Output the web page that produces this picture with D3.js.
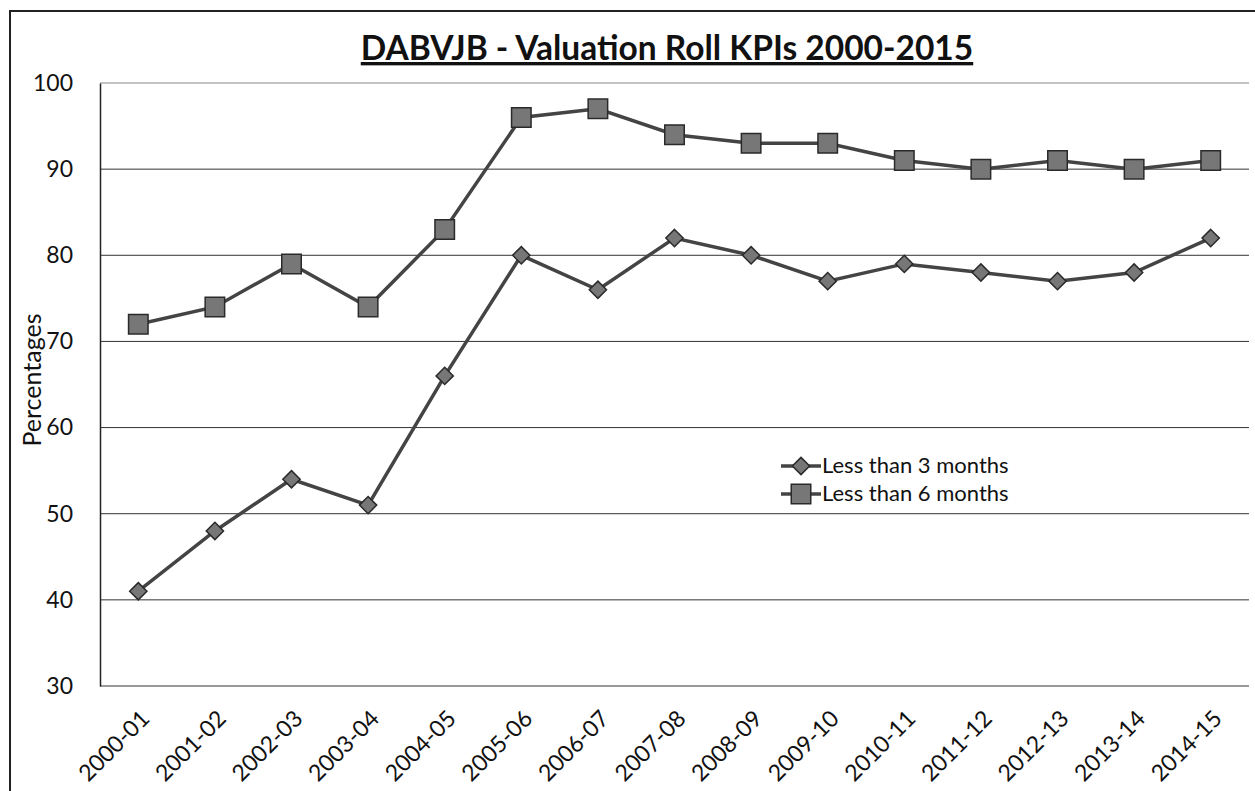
<!DOCTYPE html>
<html lang="en">
<head>
<meta charset="utf-8">
<title>DABVJB - Valuation Roll KPIs 2000-2015</title>
<script src="https://d3js.org/d3.v7.min.js"></script>
<style>
  body { margin: 0; background: #fff; }
  svg text { font-family: Lato, "Open Sans", sans-serif; fill: #111; }
  .axis text { font-size: 23px; }
  .xaxis text { font-size: 23px; }
  .title { font-size: 33.5px; font-weight: bold; text-decoration: underline; }
  .legend text { font-size: 22px; }
</style>
</head>
<body>
<svg id="chart" width="1255" height="791"></svg>
<script>
// chart values
var years = ["2000-01","2001-02","2002-03","2003-04","2004-05","2005-06","2006-07","2007-08",
             "2008-09","2009-10","2010-11","2011-12","2012-13","2013-14","2014-15"];
var less3 = [41, 48, 54, 51, 66, 80, 76, 82, 80, 77, 79, 78, 77, 78, 82];
var less6 = [72, 74, 79, 74, 83, 96, 97, 94, 93, 93, 91, 90, 91, 90, 91];
var yTicks = [30, 40, 50, 60, 70, 80, 90, 100];
var seriesNames = ["Less than 3 months", "Less than 6 months"];

var svg = d3.select("#chart");
var plotLeft = 100, plotRight = 1249, plotTop = 83, plotBottom = 686;

var x = d3.scalePoint().domain(years).range([plotLeft, plotRight]).padding(0.5);
var y = d3.scaleLinear().domain([30, 100]).range([plotBottom, plotTop]);

// outer frame (cut off at the right / bottom like the scan)
svg.append("path")
  .attr("d", "M10,800 L10,11 L1260,11")
  .attr("fill", "none").attr("stroke", "#222").attr("stroke-width", 2);

// grid lines
svg.append("g")
  .selectAll("line").data(yTicks).enter().append("line")
    .attr("x1", plotLeft).attr("x2", plotRight)
    .attr("y1", function(d) { return y(d); })
    .attr("y2", function(d) { return y(d); })
    .attr("stroke", function(d) { return d == 100 ? "#888" : "#333"; })
    .attr("stroke-width", 1);

// y axis
var yAxis = svg.append("g").attr("class", "axis")
  .attr("transform", "translate(" + plotLeft + ",0)")
  .call(d3.axisLeft(y).tickValues(yTicks).tickSize(0).tickPadding(27));
yAxis.select(".domain").attr("stroke", "#222").attr("stroke-width", 1.5);

// x axis
var xAxis = svg.append("g").attr("class", "axis xaxis")
  .attr("transform", "translate(0," + plotBottom + ")")
  .call(d3.axisBottom(x).tickSize(0));
xAxis.select(".domain").remove();
xAxis.selectAll("text")
  .attr("text-anchor", "end")
  .attr("dy", 0)
  .attr("transform", "translate(10,32) rotate(-45)");

svg.append("text")
  .attr("transform", "translate(41,380) rotate(-90)")
  .attr("text-anchor", "middle")
  .style("font-size", "25px")
  .text("Percentages");

svg.append("text").attr("class", "title")
  .attr("x", 667).attr("y", 60)
  .attr("text-anchor", "middle")
  .text("DABVJB - Valuation Roll KPIs 2000-2015");

var line = d3.line()
  .x(function(d, i) { return x(years[i]); })
  .y(function(d) { return y(d); });

var diamond = d3.symbol().type(d3.symbolDiamond2).size(190);
var square = d3.symbol().type(d3.symbolSquare).size(380);

function drawSeries(values, sym) {
  var g = svg.append("g");
  g.append("path").datum(values)
    .attr("d", line)
    .attr("fill", "none").attr("stroke", "#444").attr("stroke-width", 3.5);
  g.selectAll("path.m").data(values).enter().append("path")
    .attr("class", "m")
    .attr("d", sym)
    .attr("transform", function(d, i) { return "translate(" + x(years[i]) + "," + y(d) + ")"; })
    .attr("fill", "#777").attr("stroke", "#2a2a2a").attr("stroke-width", 1.5);
}
drawSeries(less3, diamond);
drawSeries(less6, square);

// legend
var legend = svg.append("g").attr("class", "legend");
[diamond, square].forEach(function(sym, i) {
  var ly = 466 + i * 28;
  legend.append("line")
    .attr("x1", 781).attr("x2", 821).attr("y1", ly).attr("y2", ly)
    .attr("stroke", "#444").attr("stroke-width", 3.5);
  legend.append("path").attr("d", sym)
    .attr("transform", "translate(801," + ly + ")")
    .attr("fill", "#777").attr("stroke", "#2a2a2a").attr("stroke-width", 1.5);
  legend.append("text")
    .attr("x", 822).attr("y", ly + 7)
    .text(seriesNames[i]);
});
</script>
</body>
</html>
